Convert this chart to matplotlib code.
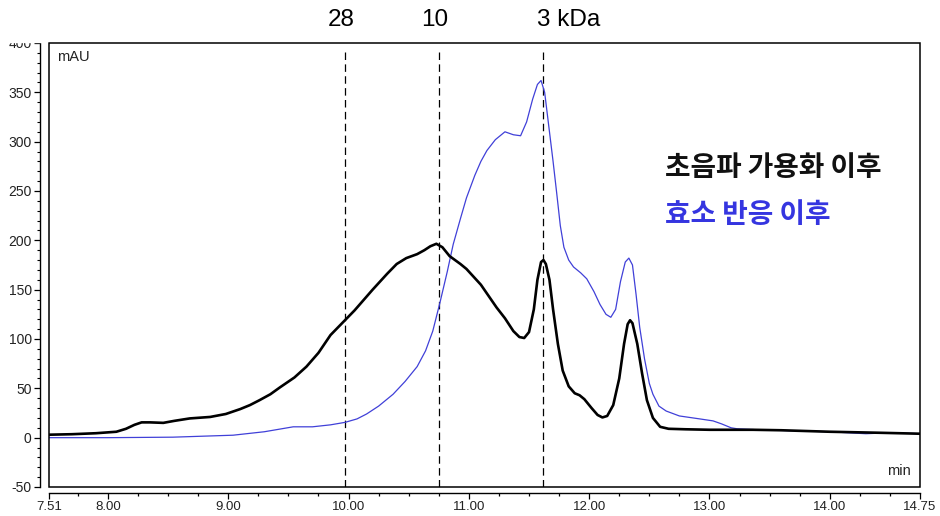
import matplotlib
matplotlib.use("Agg")
import matplotlib.pyplot as plt
from matplotlib.patches import Rectangle
from matplotlib.ticker import MultipleLocator, FixedLocator


# --- 크로마토그램 데이터 (min, mAU) ---

ultra_time = [7.51, 7.70, 7.90, 8.07, 8.15, 8.22, 8.28, 8.35, 8.46, 8.55,
              8.68, 8.85, 8.98, 9.10, 9.18, 9.26, 9.35, 9.43, 9.55, 9.65,
              9.75, 9.85, 9.97, 10.05, 10.10, 10.20, 10.32, 10.40, 10.48, 10.57,
              10.63, 10.68, 10.73, 10.78, 10.84, 10.93, 10.98, 11.10, 11.23, 11.30,
              11.37, 11.42, 11.46, 11.50, 11.54, 11.57, 11.60, 11.62, 11.64, 11.67,
              11.70, 11.74, 11.78, 11.83, 11.88, 11.92, 11.96, 12.02, 12.07, 12.11,
              12.15, 12.20, 12.25, 12.29, 12.32, 12.34, 12.36, 12.40, 12.44, 12.48,
              12.53, 12.59, 12.66, 12.80, 13.00, 13.36, 13.60, 14.00, 14.40, 14.75]
ultra_mau = [3, 3.5, 4.5, 6, 9, 13, 15.5, 15.5, 15, 17,
             19.5, 21, 24, 29, 33, 38, 44, 51, 61, 72,
             86, 104, 119, 129, 136, 150, 166, 176, 182, 186,
             190, 194, 196.5, 193, 184, 176, 171, 155, 132, 121,
             108, 102, 101, 107, 130, 160, 178, 180, 176, 160,
             130, 95, 68, 52, 45, 43, 39, 30, 23, 20.5,
             22, 33, 60, 95, 115, 119, 116, 95, 65, 38,
             20, 11, 9, 8.5, 8, 8, 7.5, 6, 5, 4]

enzyme_time = [7.51, 8.00, 8.54, 9.04, 9.30, 9.54, 9.70, 9.85, 9.97, 10.07,
               10.15, 10.25, 10.37, 10.47, 10.57, 10.64, 10.70, 10.76, 10.82, 10.87,
               10.93, 10.98, 11.05, 11.10, 11.15, 11.22, 11.30, 11.37, 11.43, 11.48,
               11.53, 11.57, 11.60, 11.63, 11.66, 11.70, 11.73, 11.76, 11.79, 11.83,
               11.87, 11.93, 11.98, 12.04, 12.09, 12.14, 12.18, 12.22, 12.26, 12.30,
               12.33, 12.36, 12.39, 12.42, 12.46, 12.50, 12.53, 12.58, 12.64, 12.75,
               12.92, 13.03, 13.10, 13.18, 13.23, 13.40, 13.70, 14.00, 14.30, 14.50,
               14.75]
enzyme_mau = [0, 0, 0.5, 2.5, 6, 11, 11, 13, 15.5, 19,
              24, 32, 44, 57, 72, 88, 108, 137, 168, 196,
              222, 243, 266, 280, 291, 302, 310, 307, 306, 320,
              343, 358, 362, 350, 320, 280, 248, 215, 193, 180,
              173, 167, 161, 148, 135, 125, 122, 130, 158, 178,
              182, 175, 145, 112, 80, 55, 44, 32, 27, 22,
              19, 17, 14, 10, 9, 8, 7, 6, 4, 5,
              4]

# 분자량 마커 위치
marker_time = [9.97, 10.75, 11.62]
marker_label = ['28', '10', '3 kDa']

x_ticks = [7.51, 8.0, 9.0, 10.0, 11.0, 12.0, 13.0, 14.0, 14.75]

FONT_NUM = ['Liberation Sans', 'DejaVu Sans']
FONT_KR = ['Noto Sans CJK KR', 'DejaVu Sans']

plt.rcParams['axes.unicode_minus'] = False

fig = plt.figure(figsize=(9.4, 5.16), dpi=100)
ax = fig.add_axes([49 / 940, 1 - 487 / 516, 871 / 940, 444 / 516])

ax.plot(enzyme_time, enzyme_mau, color='#4040d8', lw=0.9, zorder=3,
        solid_joinstyle='round')
ax.plot(ultra_time, ultra_mau, color='black', lw=1.9, zorder=4,
        solid_joinstyle='round')

for t in marker_time:
    ax.axvline(t, ymax=0.985, color='black', lw=0.9, dashes=(6, 3.5), zorder=2)

ax.set_xlim(7.51, 14.75)
ax.set_ylim(-50, 400)

# 플롯 테두리
ax.add_patch(Rectangle((0, 0), 1, 1, transform=ax.transAxes, fill=False,
                       lw=1.1, color='black', clip_on=False, zorder=5))

ax.spines['bottom'].set_position(('outward', 4))
ax.spines['left'].set_position(('outward', 6.5))
ax.spines['top'].set_visible(False)
ax.spines['right'].set_visible(False)
for s in ('bottom', 'left'):
    ax.spines[s].set_linewidth(1.0)

ax.xaxis.set_major_locator(FixedLocator(x_ticks))
ax.set_xticklabels([f'{v:.2f}' for v in x_ticks])
ax.xaxis.set_minor_locator(MultipleLocator(0.25))
ax.yaxis.set_major_locator(MultipleLocator(50))
ax.yaxis.set_minor_locator(MultipleLocator(10))
ax.tick_params(axis='x', which='major', length=4, width=0.9, pad=2)
ax.tick_params(axis='x', which='minor', length=2.5, width=0.9)
ax.tick_params(axis='y', which='major', length=4.5, width=0.9, pad=1.5)
ax.tick_params(axis='y', which='minor', length=2.2, width=0.8)
for lab in ax.get_xticklabels():
    lab.set_fontfamily(FONT_NUM)
    lab.set_fontsize(9.5)
    lab.set_color('#222222')
for lab in ax.get_yticklabels():
    lab.set_fontfamily(FONT_NUM)
    lab.set_fontsize(10)
    lab.set_color('#222222')

ax.text(0.009, 0.968, 'mAU', transform=ax.transAxes, fontsize=10.5,
        family=FONT_NUM, va='center', ha='left', color='#222222')
ax.text(0.9897, 0.036, 'min', transform=ax.transAxes, fontsize=10.5,
        family=FONT_NUM, va='center', ha='right', color='#222222')

# 상단 kDa 라벨
for t, lab in zip(marker_time, marker_label):
    if lab.endswith('kDa'):
        ax.annotate(lab, xy=(t, 1.052), xycoords=('data', 'axes fraction'),
                    xytext=(-5, 0), textcoords='offset points',
                    ha='left', va='center', fontsize=17.5, family=FONT_NUM)
    else:
        ax.annotate(lab, xy=(t - 0.03, 1.052), xycoords=('data', 'axes fraction'),
                    ha='center', va='center', fontsize=17.5, family=FONT_NUM)

ax.text(12.63, 273, '초음파 가용화 이후', fontsize=20, fontweight='bold',
        family=FONT_KR, color='#111111', va='center', ha='left')
ax.text(12.63, 226, '효소 반응 이후', fontsize=20, fontweight='bold',
        family=FONT_KR, color='#3535e0', va='center', ha='left')

# 왼쪽 위 여백 가림
fig.patches.append(Rectangle((0, 1 - 42 / 516), 47 / 940, 42 / 516,
                             transform=fig.transFigure, color='white', zorder=10))

fig.savefig('out.png', dpi=100)
